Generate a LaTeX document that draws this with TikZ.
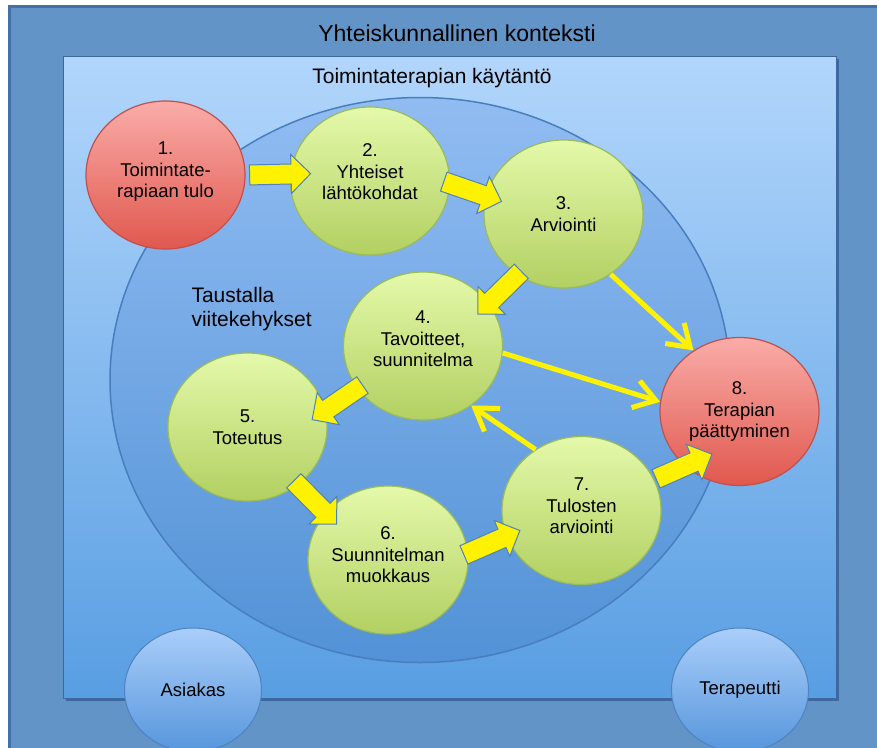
\documentclass[tikz,border=0pt]{standalone}
\usepackage{fontspec}
\setmainfont{Liberation Sans}
\usetikzlibrary{shapes.geometric,shapes.arrows,arrows.meta}

\definecolor{outerblue}{RGB}{98,148,200}
\definecolor{outeredge}{RGB}{70,112,165}
\definecolor{innertop}{RGB}{178,214,252}
\definecolor{innerbot}{RGB}{88,158,226}
\definecolor{innershadow}{RGB}{62,105,160}
\definecolor{ringtop}{RGB}{145,188,242}
\definecolor{ringbot}{RGB}{82,146,214}
\definecolor{ringedge}{RGB}{72,126,190}
\definecolor{greentop}{RGB}{228,249,170}
\definecolor{greenbot}{RGB}{178,208,98}
\definecolor{greenedge}{RGB}{155,187,89}
\definecolor{redtop}{RGB}{250,172,168}
\definecolor{redbot}{RGB}{224,88,78}
\definecolor{rededge}{RGB}{192,80,77}
\definecolor{partytop}{RGB}{170,206,250}
\definecolor{partybot}{RGB}{86,150,220}
\definecolor{partyedge}{RGB}{78,130,192}
\definecolor{flowedge}{RGB}{79,129,189}

\begin{document}
\begin{tikzpicture}[x=1pt, y=-1pt,
    phase/.style={ellipse, draw=greenedge, line width=1.2pt, top color=greentop, bottom color=greenbot, minimum width=159pt, minimum height=148pt, inner sep=0pt, align=center, font=\fontsize{18.5}{21.5}\selectfont},
    endphase/.style={phase, draw=rededge, top color=redtop, bottom color=redbot},
    party/.style={ellipse, draw=partyedge, line width=1pt, top color=partytop, bottom color=partybot, minimum width=137pt, minimum height=124pt, inner sep=0pt, font=\fontsize{18.5}{21.5}\selectfont},
    flow/.style={single arrow, draw=flowedge, fill=yellow, line width=1pt, minimum width=38pt, minimum height=61pt, single arrow head extend=9.5pt, inner xsep=0pt, inner ysep=9.5pt, sloped, allow upside down},
    link/.style={draw=yellow, line width=5pt, -{Straight Barb[length=21pt, width=28pt]}}
]
    \useasboundingbox (0,0) rectangle (877,747);

    % Frames
    \draw[outeredge, line width=3pt, fill=outerblue] (9.5,6.5) rectangle (890,760);
    \node[font=\fontsize{23}{27}\selectfont] (society) at (457,33) {Yhteiskunnallinen konteksti};
    \fill[innershadow] (66,59) rectangle (839,701);
    \draw[innershadow, line width=0.8pt, top color=innertop, bottom color=innerbot] (63,56) rectangle (836,698);
    \node[font=\fontsize{21}{25}\selectfont] (practice) at (432,78) {Toimintaterapian käytäntö};
    \node[ellipse, draw=ringedge, line width=1.5pt, top color=ringtop, bottom color=ringbot, minimum width=620pt, minimum height=565pt] (ring) at (420,380) {};
    \node[anchor=west, align=left, font=\fontsize{21}{24}\selectfont] (frames) at (188,309) {Taustalla\\viitekehykset};

    % Parties
    \node[party] (client) at (193,690) {Asiakas};
    \node[party] (therapist) at (740,690) {Terapeutti};

    % Phases
    \node[endphase] (p1) at (165.5,175) {1.\\Toimintate-\\rapiaan tulo\\[-11.5pt]};
    \node[phase] (p2) at (370,181) {2.\\Yhteiset\\lähtökohdat\\[-3.5pt]};
    \node[phase] (p3) at (563.5,214) {3.\\Arviointi};
    \node[phase] (p4) at (423,346) {4.\\Tavoitteet,\\suunnitelma\\[-7.5pt]};
    \node[phase] (p5) at (247.5,427) {5.\\Toteutus};
    \node[phase] (p6) at (388,560) {6.\\Suunnitelman\\muokkaus\\[-11.5pt]};
    \node[phase] (p7) at (581.5,510.5) {7.\\Tulosten\\arviointi\\[-12.5pt]};
    \node[endphase] (p8) at (739.5,411.5) {8.\\Terapian\\päättyminen};

    % Main flow
    \path (p1.0) -- node[flow, pos=0.66] {} (p2.175);
    \path (p2.-2) -- node[flow] {} (p3.167);
    \path (p3.233) -- node[flow] {} (p4.33);
    \path (p4.213) -- node[flow] {} (p5.12);
    \path (p5.-49) -- node[flow] {} (p6.143);
    \path (p6.5) -- node[flow] {} (p7.199);
    \path (p7.23) -- node[flow, pos=0.82] {} (p8.225);

    % Shortcuts
    \draw[link] (p3.-52) -- (p8.127);
    \draw[link] (p4.-5) -- (p8.173);
    \draw[link] (p7.127) -- (p4.-51);
\end{tikzpicture}
\end{document}
